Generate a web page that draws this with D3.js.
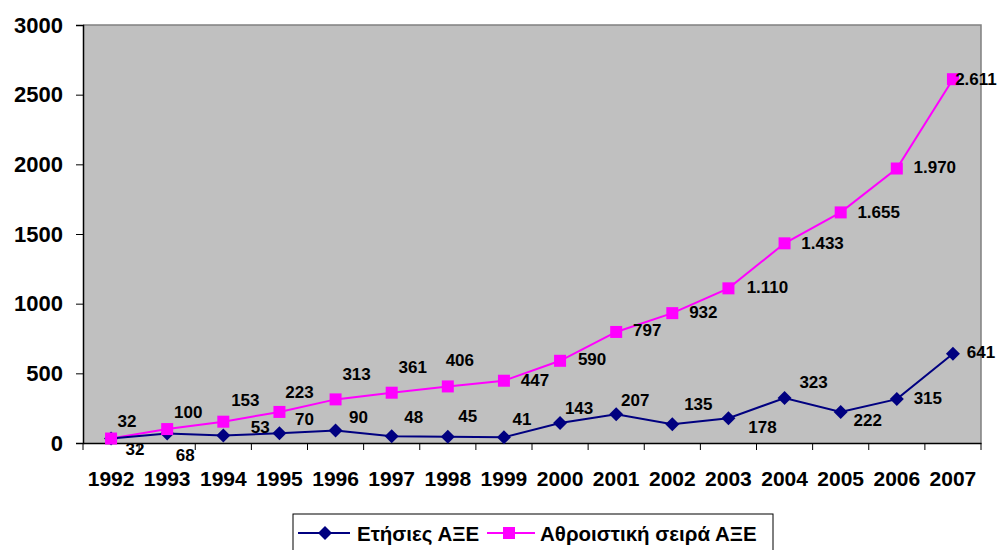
<!DOCTYPE html>
<html><head><meta charset="utf-8">
<script src="https://cdn.jsdelivr.net/npm/d3@7"></script>
<style>
html,body{margin:0;padding:0;background:#fff;}
svg{display:block;font-family:"Liberation Sans",Arial,sans-serif;}
</style></head>
<body>
<svg id="chart" width="997" height="550"></svg>
<script>
const years = ["1992","1993","1994","1995","1996","1997","1998","1999","2000","2001","2002","2003","2004","2005","2006","2007"];
const annual = [32,68,53,70,90,48,45,41,143,207,135,178,323,222,315,641];
const cumulative = [32,100,153,223,313,361,406,447,590,797,932,1110,1433,1655,1970,2611];
const yTicks = [0,500,1000,1500,2000,2500,3000];
const seriesNames = ["Ετήσιες ΑΞΕ","Αθροιστική σειρά ΑΞΕ"];
// label offsets (pixels, label centre relative to point)
const annualLabelOffsets = [[24,11],[18,22],[37,-8],[25,-14],[23,-13],[22,-19],[20,-20],[18,-18],[19,-15],[19,-14],[26,-20],[34,9],[29,-15],[27,8],[31,-1],[28,-1]];
const cumLabelOffsets = [[16,-17],[21,-17],[22,-21],[20,-19],[21,-25],[21,-25],[12,-26],[31,0],[32,-1],[31,-1],[31,-1],[39,-1],[38,0],[38,0],[38,-1],[23,0]];

const svg = d3.select("#chart");
const L = 83, R = 981, T = 25, B = 443;
const x = d3.scaleBand().domain(years).range([L, R]).paddingInner(0).paddingOuter(0);
const cx = d => x(d) + x.bandwidth()/2;
const y = d3.scaleLinear().domain([0,3000]).range([B, T]);
const fmt = d3.formatLocale({decimal:",", thousands:".", grouping:[3], currency:["","€"]}).format(",d");

// plot area
svg.append("rect").attr("x", L).attr("y", T).attr("width", R-L).attr("height", B-T)
  .attr("fill", "#C0C0C0").attr("stroke", "none");
svg.append("path").attr("d", `M${L},${T}H${R}V${B}`).attr("fill","none").attr("stroke","#808080").attr("stroke-width",1.5);

// y axis
const yAxis = d3.axisLeft(y).tickValues(yTicks).tickSize(7).tickPadding(13).tickFormat(d3.format("d"));
const gy = svg.append("g").attr("transform", `translate(${L},0)`).call(yAxis);
gy.select(".domain").attr("stroke","#000").attr("stroke-width",1.5);
gy.selectAll(".tick line").attr("stroke","#000").attr("stroke-width",1);
gy.selectAll(".tick text").attr("font-size", 22).attr("font-weight","bold").attr("fill","#000")
  .attr("font-family","'Liberation Sans',Arial,sans-serif");

// x axis
const xAxis = d3.axisBottom(x).tickSize(0).tickPadding(28);
const gx = svg.append("g").attr("transform", `translate(0,${B})`).call(xAxis);
gx.select(".domain").attr("stroke","#000").attr("stroke-width",1.5);
gx.selectAll(".tick text").attr("font-size", 21).attr("font-weight","bold").attr("fill","#000")
  .attr("font-family","'Liberation Sans',Arial,sans-serif");
// tick marks at category boundaries
const bounds = years.map(d => x(d)).concat([R]);
gx.selectAll(".btick").data(bounds).enter().append("line")
  .attr("x1", d => d).attr("x2", d => d).attr("y1", 0).attr("y2", 7)
  .attr("stroke","#000").attr("stroke-width",1);

// lines
const line = d3.line().x((d,i) => cx(years[i])).y(d => y(d));
svg.append("path").datum(cumulative).attr("d", line).attr("fill","none")
  .attr("stroke","#FF00FF").attr("stroke-width",2);
svg.append("path").datum(annual).attr("d", line).attr("fill","none")
  .attr("stroke","#000080").attr("stroke-width",2);

// markers
const diamond = d3.symbol().type(d3.symbolSquare).size(98);
svg.append("g").selectAll("path").data(annual).enter().append("path")
  .attr("d", diamond)
  .attr("transform", (d,i) => `translate(${cx(years[i])},${y(d)}) rotate(45)`)
  .attr("fill","#000080");
svg.append("g").selectAll("rect").data(cumulative).enter().append("rect")
  .attr("x", (d,i) => cx(years[i]) - 6).attr("y", d => y(d) - 6)
  .attr("width", 12).attr("height", 12).attr("fill","#FF00FF");

// value labels
function labels(data, offs) {
  svg.append("g").selectAll("text").data(data).enter().append("text")
    .attr("x", (d,i) => cx(years[i]) + offs[i][0])
    .attr("y", (d,i) => y(d) + offs[i][1])
    .attr("text-anchor","middle").attr("dominant-baseline","central")
    .attr("font-size", 17).attr("font-weight","bold").attr("fill","#000")
    .text(d => fmt(d));
}
labels(annual, annualLabelOffsets);
labels(cumulative, cumLabelOffsets);

// legend
const lg = svg.append("g");
lg.append("rect").attr("x", 293).attr("y", 514).attr("width", 480).attr("height", 45)
  .attr("fill","#fff").attr("stroke","#000").attr("stroke-width",1);
const ly = 533;
lg.append("line").attr("x1",298).attr("x2",350).attr("y1",ly).attr("y2",ly).attr("stroke","#000080").attr("stroke-width",2);
lg.append("path").attr("d", diamond).attr("transform",`translate(325,${ly}) rotate(45)`).attr("fill","#000080");
lg.append("text").attr("x",357).attr("y",ly).attr("dominant-baseline","central")
  .attr("font-size",20.5).attr("font-weight","bold").attr("fill","#000").text(seriesNames[0]);
lg.append("line").attr("x1",487).attr("x2",535).attr("y1",ly).attr("y2",ly).attr("stroke","#FF00FF").attr("stroke-width",2);
lg.append("rect").attr("x",503).attr("y",ly-6).attr("width",12).attr("height",12).attr("fill","#FF00FF");
lg.append("text").attr("x",540).attr("y",ly).attr("dominant-baseline","central")
  .attr("font-size",20.5).attr("font-weight","bold").attr("fill","#000").text(seriesNames[1]);
</script>
</body></html>
